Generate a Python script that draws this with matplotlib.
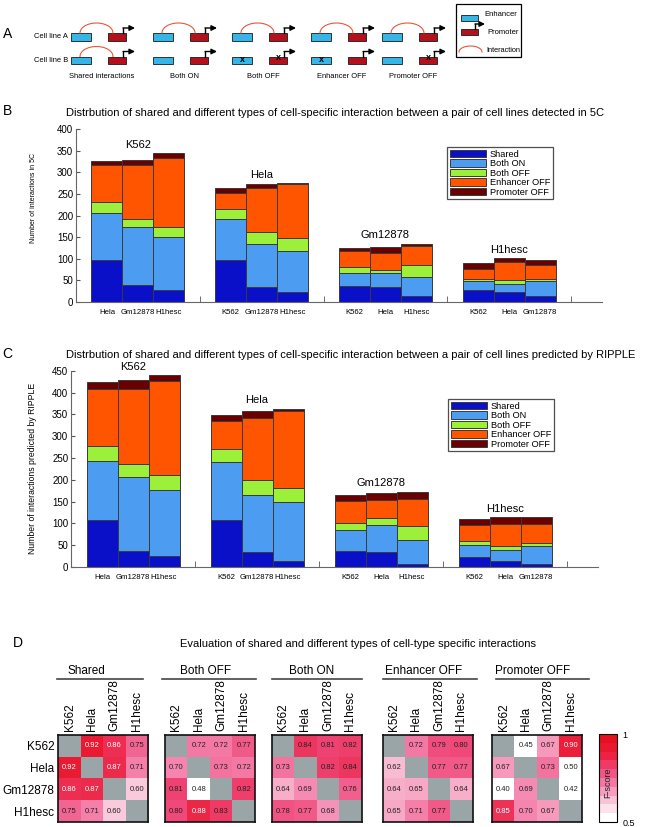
# Shared vs cell-specific interaction figure (panels A-D)
import numpy as np
import matplotlib
matplotlib.use('Agg')
import matplotlib.pyplot as plt
from matplotlib.patches import Rectangle
from matplotlib.colors import LinearSegmentedColormap, Normalize
from matplotlib.cm import ScalarMappable

plt.rcParams['font.family'] = ['Liberation Sans', 'DejaVu Sans']

# ---------------- data ----------------
layers = ['Shared', 'Both ON', 'Both OFF', 'Enhancer OFF', 'Promoter OFF']
layer_colors = ['#0A0FC8', '#4C9CF2', '#9CF03A', '#FF5500', '#6B0000']
cell_lines = ['K562', 'Hela', 'Gm12878', 'H1hesc']
pair_labels = ['Hela', 'Gm12878', 'H1hesc', 'K562', 'Gm12878', 'H1hesc',
               'K562', 'Hela', 'H1hesc', 'K562', 'Hela', 'Gm12878']

# panel B: detected in 5C
shared_5c = [97, 39, 28, 98, 35, 22, 38, 34, 15, 27, 22, 15]
both_on_5c = [108, 134, 122, 93, 99, 96, 28, 34, 42, 22, 20, 33]
both_off_5c = [26, 20, 24, 24, 28, 31, 16, 7, 28, 5, 10, 5]
enh_off_5c = [86, 124, 160, 38, 101, 123, 36, 38, 45, 23, 40, 32]
prom_off_5c = [8, 12, 10, 10, 10, 3, 7, 14, 5, 13, 9, 13]

# panel C: predicted by RIPPLE
shared_rip = [108, 37, 25, 108, 34, 14, 37, 34, 7, 23, 14, 7]
both_on_rip = [136, 169, 151, 133, 132, 134, 48, 62, 55, 27, 26, 41]
both_off_rip = [33, 31, 34, 30, 34, 34, 15, 16, 32, 10, 8, 7]
enh_off_rip = [130, 171, 217, 64, 142, 175, 52, 42, 62, 36, 50, 43]
prom_off_rip = [17, 20, 12, 13, 16, 6, 12, 16, 17, 14, 17, 17]

# panel D: F-scores (rows/cols = cell_lines, diagonal empty)
nan = np.nan
f_shared = [[nan, 0.92, 0.86, 0.75], [0.92, nan, 0.87, 0.71],
            [0.86, 0.87, nan, 0.60], [0.75, 0.71, 0.60, nan]]
f_both_off = [[nan, 0.72, 0.72, 0.77], [0.70, nan, 0.73, 0.72],
              [0.81, 0.48, nan, 0.82], [0.80, 0.88, 0.83, nan]]
f_both_on = [[nan, 0.84, 0.81, 0.82], [0.73, nan, 0.82, 0.84],
             [0.64, 0.69, nan, 0.76], [0.78, 0.77, 0.68, nan]]
f_enh_off = [[nan, 0.72, 0.79, 0.80], [0.62, nan, 0.77, 0.77],
             [0.64, 0.65, nan, 0.64], [0.65, 0.71, 0.77, nan]]
f_prom_off = [[nan, 0.45, 0.67, 0.90], [0.67, nan, 0.73, 0.50],
              [0.40, 0.69, nan, 0.42], [0.85, 0.70, 0.67, nan]]
heat_titles = ['Shared', 'Both OFF', 'Both ON', 'Enhancer OFF', 'Promoter OFF']

W, H = 662, 827
fig = plt.figure(figsize=(W/100, H/100), dpi=100)


def px_axes(x0, y0, x1, y1):
    """axes from pixel box (top-left origin)"""
    return fig.add_axes([x0/W, 1 - y1/H, (x1 - x0)/W, (y1 - y0)/H])


def ftext(x, y, s, **kw):
    fig.text(x/W, 1 - y/H, s, **kw)


# ---------------- panel A: schematic ----------------
ax = px_axes(0, 0, W, 100)
ax.set_xlim(0, W)
ax.set_ylim(100, 0)
ax.axis('off')

blue, red, arc_col = '#35B6E6', '#B3121C', '#E8553A'


def box(x, y, w, h, col):
    ax.add_patch(Rectangle((x, y), w, h, fc=col, ec='#1a1a1a', lw=0.6))


def tss(x, ytop, dx=12):
    ax.plot([x, x], [ytop, ytop - 5], color='k', lw=1.0)
    ax.annotate('', xy=(x + dx, ytop - 5), xytext=(x, ytop - 5),
                arrowprops=dict(arrowstyle='-|>', color='k', lw=1.0,
                                mutation_scale=8, shrinkA=0, shrinkB=0))


def arc(x0, x1, ybase, h):
    t = np.linspace(0, np.pi, 40)
    ax.plot((x0 + x1)/2 - (x1 - x0)/2*np.cos(t), ybase - h*np.sin(t),
            color=arc_col, lw=0.8)


group_x = [71, 153, 232, 311, 382]
group_names = ['Shared interactions', 'Both ON', 'Both OFF', 'Enhancer OFF', 'Promoter OFF']
rowB_arc = [True, False, False, False, False]
rowB_xblue = [False, False, True, True, False]
rowB_xred = [False, False, True, False, True]
for i, gx in enumerate(group_x):
    rx = gx + 37
    for top, h in [(33, 8), (56.5, 7)]:
        box(gx, top, 20, h, blue)
        box(rx, top, 18, h, red)
        tss(rx + 15, top)
    arc(gx + 9, rx + 5, 33, 10)
    if rowB_arc[i]:
        arc(gx + 9, rx + 5, 56.5, 10)
    if rowB_xblue[i]:
        ax.text(gx + 10, 59, 'x', ha='center', va='center', fontsize=6.5, fontweight='bold')
    if rowB_xred[i]:
        ax.text(rx + 9, 58, 'x', ha='center', va='center', fontsize=6.5, fontweight='bold')
    ax.text(gx + 31, 76, group_names[i], ha='center', va='center', fontsize=5.4)
ax.text(68, 37, 'Cell line A', ha='right', va='center', fontsize=5.4)
ax.text(68, 60, 'Cell line B', ha='right', va='center', fontsize=5.4)
ax.text(8, 34, 'A', ha='center', va='center', fontsize=10)

# legend of the schematic
ax.add_patch(Rectangle((456, 4), 65, 53, fc='white', ec='k', lw=0.9))
box(461, 15, 17, 6, blue)
ax.text(484, 14, 'Enhancer', ha='left', va='center', fontsize=5.5)
box(461, 29, 17, 6, red)
tss(475, 29, dx=10)
ax.text(487, 33, 'Promoter', ha='left', va='center', fontsize=5.5)
arc(459, 482, 52, 6)
ax.text(486, 50, 'Interaction', ha='left', va='center', fontsize=5.3)


# ---------------- panels B and C: stacked bars ----------------
def draw_bars(ax, series, ymax, ylabel, ylab_pos, ylab_size, leg_xy):
    xpos = np.array([4*g + 1 + j for g in range(4) for j in range(3)])
    bottom = np.zeros(len(xpos))
    for name, vals, col in zip(layers, series, layer_colors):
        ax.bar(xpos, vals, width=1, bottom=bottom, color=col,
               edgecolor='#3a3a3a', lw=0.7, label=name)
        bottom += np.array(vals)
    for g, name in enumerate(cell_lines):
        ax.annotate(name, (4*g + 2, bottom[3*g:3*g + 3].max()), xytext=(0, 6),
                    textcoords='offset points', ha='center', va='center',
                    fontsize=8, annotation_clip=False)
    ax.set_xlim(0, 17)
    ax.set_ylim(0, ymax)
    ax.set_yticks(np.arange(0, ymax + 1, 50))
    ax.set_xticks(xpos)
    ax.set_xticklabels(pair_labels)
    ax.set_xticks([4, 8, 12, 16], minor=True)
    ax.tick_params(axis='x', which='major', length=0, pad=5, labelsize=5.6)
    ax.tick_params(axis='x', which='minor', direction='in', length=4, color='#555')
    ax.tick_params(axis='y', direction='in', length=3, labelsize=7, color='#555', pad=2)
    for s in ['top', 'right']:
        ax.spines[s].set_visible(False)
    for s in ['left', 'bottom']:
        ax.spines[s].set_color('#666')
        ax.spines[s].set_linewidth(0.8)
    ax.set_ylabel(ylabel, fontsize=ylab_size)
    ax.yaxis.set_label_coords(*ylab_pos)
    leg = ax.legend(loc='upper left', bbox_to_anchor=(leg_xy[0]/W, 1 - leg_xy[1]/H),
                    bbox_transform=fig.transFigure, fontsize=6.7, frameon=True,
                    fancybox=False, borderpad=0.3, labelspacing=0.05,
                    handlelength=3.9, handleheight=0.8, handletextpad=0.4,
                    borderaxespad=0)
    leg.get_frame().set_edgecolor('#222')
    leg.get_frame().set_linewidth(0.9)


ax_b = px_axes(76, 129, 602, 302)
draw_bars(ax_b, [shared_5c, both_on_5c, both_off_5c, enh_off_5c, prom_off_5c],
          400, 'Number of interactions in 5C', (-0.074, 0.6), 5.0, (447, 147))
ftext(335, 113, 'Distrbution of shared and different types of cell-specific interaction '
      'between a pair of cell lines detected in 5C', ha='center', va='center', fontsize=8)
ftext(8, 111, 'B', ha='center', va='center', fontsize=10)

ax_c = px_axes(71, 370.7, 598, 567)
draw_bars(ax_c, [shared_rip, both_on_rip, both_off_rip, enh_off_rip, prom_off_rip],
          450, 'Number of interactions predicted by RIPPLE', (-0.065, 0.5), 6.2, (448, 399))
ftext(351, 355, 'Distrbution of shared and different types of cell-specific interaction '
      'between a pair of cell lines predicted by RIPPLE', ha='center', va='center', fontsize=8)
ftext(7, 354, 'C', ha='center', va='center', fontsize=10)

# ---------------- panel D: F-score heatmaps ----------------
cmap = LinearSegmentedColormap.from_list(
    'fscore', ['#FFFFFF', '#F9CADB', '#F585AF', '#EF4879', '#EC1E3A', '#E8101E'])
cmap.set_bad('#9AA5A8')
norm = Normalize(0.5, 1.0)

ftext(358, 644, 'Evaluation of shared and different types of cell-type specific interactions',
      ha='center', va='center', fontsize=8)
ftext(18, 643, 'D', ha='center', va='center', fontsize=10)

heat_x = [58.3, 165, 271.7, 382.7, 492.3]
title_x = [0.315, 0.456, 0.444, 0.459, 0.452]
line_x = [(-0.02, 0.94), (-0.03, 1.01), (0.0, 1.0), (0.0, 1.05), (0.04, 1.07)]
for k, (vals, title) in enumerate(zip([f_shared, f_both_off, f_both_on, f_enh_off, f_prom_off],
                                      heat_titles)):
    x0 = heat_x[k]
    hx = px_axes(x0, 735, x0 + 90, 822)
    arr = np.ma.masked_invalid(np.array(vals, dtype=float))
    hx.imshow(arr, cmap=cmap, norm=norm, aspect='auto', interpolation='nearest')
    for i in range(4):
        for j in range(4):
            v = vals[i][j]
            if np.isnan(v):
                continue
            hx.text(j, i, f'{v:.2f}', ha='center', va='center', fontsize=5.5,
                    color='white' if v >= 0.85 else '#222')
    hx.xaxis.tick_top()
    hx.set_xticks(range(4))
    hx.set_xticklabels(cell_lines, rotation=90, fontsize=8.5)
    hx.tick_params(axis='both', length=0, pad=3)
    if k == 0:
        hx.set_yticks(range(4))
        hx.set_yticklabels(cell_lines, fontsize=8.5)
    else:
        hx.set_yticks([])
    for s in hx.spines.values():
        s.set_linewidth(1.2)
        s.set_color('#111')
    hx.plot(line_x[k], [1.64, 1.64], transform=hx.transAxes, clip_on=False,
            color='#444', lw=1.2)
    hx.text(title_x[k], 1.73, title, transform=hx.transAxes, ha='center', va='center',
            fontsize=8.5)

# colorbar
cax = px_axes(599, 734, 617, 822)
cb = fig.colorbar(ScalarMappable(norm=norm, cmap=cmap.resampled(10)), cax=cax)
cb.set_ticks([0.5, 1.0])
cb.set_ticklabels(['0.5', '1'])
cb.ax.tick_params(length=0, labelsize=6.5, pad=4)
cb.outline.set_linewidth(0.8)
cax.text(0.5, 0.45, 'F-score', transform=cax.transAxes, rotation=90,
         ha='center', va='center', fontsize=6.5, color='#222')

fig.savefig('out.png', dpi=100)
